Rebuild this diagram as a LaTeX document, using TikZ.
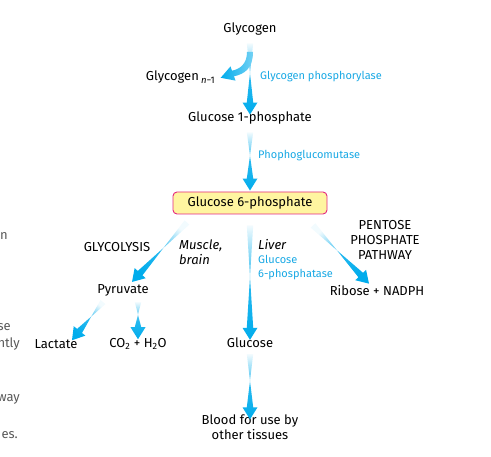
\documentclass[tikz,border=0pt]{standalone}
\usepackage{fontspec}
\setmainfont{Fira Sans}
\usepackage{tikz}
\usetikzlibrary{calc}
\definecolor{arrowblue}{RGB}{0,172,236}
\definecolor{enzymeblue}{RGB}{24,168,228}
\definecolor{boxfill}{RGB}{255,245,160}
\definecolor{boxline}{RGB}{228,40,128}
\tikzstyle{metabolite} = [inner sep=1pt, font=\fontsize{13}{15}\selectfont, text=black]
\tikzstyle{enzyme} = [metabolite, font=\fontsize{11}{14}\selectfont, text=enzymeblue, align=left]
\tikzstyle{tissue} = [metabolite, font=\fontsize{13}{15}\selectfont\itshape, align=left]
\tikzstyle{pathway} = [metabolite, align=center]
\tikzstyle{keybox} = [metabolite, rectangle, rounded corners=4pt, draw=boxline, line width=0.9pt, fill=boxfill, minimum width=154pt, minimum height=22pt]
\tikzstyle{fragment} = [metabolite, anchor=east, text=black!65]
% shaded arrow, light at the tail, full blue at the head
\newcommand{\fadearrow}[2]{%
  \path #1 coordinate (fa_s) #2 coordinate (fa_e);
  \pgfmathanglebetweenpoints{\pgfpointanchor{fa_s}{center}}{\pgfpointanchor{fa_e}{center}}%
  \pgfmathsetmacro{\faang}{\pgfmathresult-90}%
  \coordinate (fa_h) at ($(fa_e)!12pt!(fa_s)$);
  \shade[bottom color=arrowblue!5, top color=arrowblue, middle color=arrowblue!85, shading angle=\faang]
    ($(fa_s)!3.2pt!90:(fa_e)$) -- ($(fa_h)!3.2pt!-90:(fa_e)$) -- ($(fa_h)!7.5pt!-90:(fa_e)$)
    -- (fa_e) -- ($(fa_h)!7.5pt!90:(fa_e)$) -- ($(fa_h)!3.2pt!90:(fa_e)$)
    -- ($(fa_s)!3.2pt!-90:(fa_e)$) -- cycle;
}

\begin{document}
\begin{tikzpicture}[x=1pt, y=-1pt]
\useasboundingbox (0,0) rectangle (491,457);

\node(glycogen) [metabolite] at (250,29) {Glycogen};
\node(glycogen_n) [metabolite, anchor=east] at (216,77) {Glycogen\,{\raisebox{-3pt}{\fontsize{9.5}{10}\selectfont\itshape n}\raisebox{-3pt}{\fontsize{9.5}{10}\selectfont −1}}};
\node(phosphorylase) [enzyme, anchor=west] at (259,77) {Glycogen phosphorylase};
\node(g1p) [metabolite] at (250,118) {Glucose 1-phosphate};
\node(mutase) [enzyme, anchor=west] at (257,156) {Phophoglucomutase};
\node(g6p) [keybox] at (250,203) {Glucose 6-phosphate};
\node(glycolysis) [metabolite] at (117,247) {GLYCOLYSIS};
\node(muscle) [tissue, anchor=west] at (178,252) {Muscle,\\brain};
\node(liver) [tissue, anchor=west] at (257,245) {Liver};
\node(g6pase) [enzyme, anchor=north west] at (257,254) {Glucose\\6-phosphatase};
\node(pentose) [pathway] at (385,240) {PENTOSE\\PHOSPHATE\\PATHWAY};
\node(ribose) [metabolite] at (377,291) {Ribose + NADPH};
\node(pyruvate) [metabolite] at (123,290) {Pyruvate};
\node(lactate) [metabolite] at (56,344) {Lactate};
\node(co2) [metabolite] at (138,344) {CO\textsubscript{2} + H\textsubscript{2}O};
\node(glucose) [metabolite] at (250,343) {Glucose};
\node(blood) [pathway] at (250,427) {Blood for use by\\other tissues};

% cut-off text of the facing page
\node(frag_a) [fragment] at (9,236) {an};
\node(frag_b) [fragment] at (12,327) {se};
\node(frag_c) [fragment] at (21,344) {ntly};
\node(frag_d) [fragment] at (21,399) {way};
\node(frag_e) [fragment] at (19,435) {es.};

\fadearrow{([yshift=-7pt]glycogen.south)}{([yshift=-4pt]g1p.north)}
\shade[left color=arrowblue, right color=arrowblue!55]
  (247,52) -- (253,52) .. controls (253,68) and (245,74) .. (234,76.3)
  -- (235.5,80.6) -- (220.7,77.8) -- (230.5,66.4) -- (232,70.7)
  .. controls (240,69) and (247,64) .. (247,52) -- cycle;
\fadearrow{([yshift=-7pt]g1p.south)}{([yshift=1pt]g6p.north)}
\fadearrow{([xshift=-63pt,yshift=-8pt]g6p.south)}{([xshift=9pt,yshift=1pt]pyruvate.north)}
\fadearrow{([yshift=-11pt]g6p.south)}{([yshift=-3pt]glucose.north)}
\fadearrow{([xshift=63pt,yshift=-11pt]g6p.south)}{([xshift=-8pt,yshift=1pt]ribose.north)}
\fadearrow{([xshift=-20pt,yshift=-5pt]pyruvate.south)}{([xshift=16pt,yshift=-2pt]lactate.north)}
\fadearrow{([xshift=15pt,yshift=-5pt]pyruvate.south)}{([yshift=-2pt]co2.north)}
\fadearrow{([yshift=-5pt]glucose.south)}{([yshift=-6pt]blood.north)}
\end{tikzpicture}
\end{document}
